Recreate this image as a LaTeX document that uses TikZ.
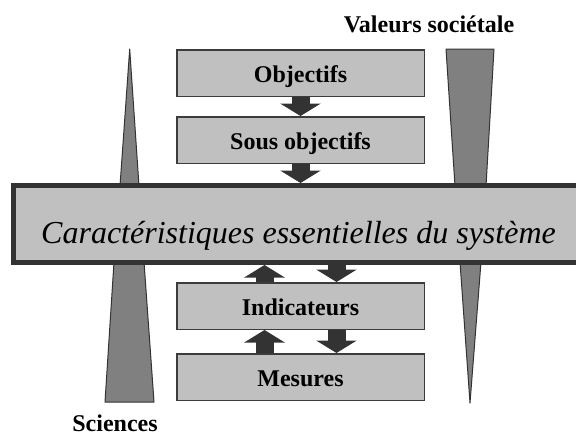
\documentclass[tikz,border=0pt]{standalone}
\usepackage{fontspec}
\setmainfont{Liberation Serif}
\usetikzlibrary{arrows.meta,calc}
\definecolor{boxfill}{HTML}{C0C0C0}
\definecolor{boxline}{HTML}{3C3C3C}
\definecolor{wedgefill}{HTML}{808080}
\definecolor{darkline}{HTML}{333333}
\begin{document}
\begin{tikzpicture}[x=1pt,y=-1pt,
		levelbox/.style={draw=boxline,fill=boxfill,line width=1.5pt,minimum width=247.5pt,minimum height=46.5pt,inner sep=0pt,text height=20pt,text depth=2pt,font=\fontsize{24}{28}\selectfont\bfseries},
		wedge/.style={draw=darkline,fill=wedgefill,line width=1pt,line join=round},
		blockarrow/.style={draw=darkline,line width=18pt,-{Triangle[width=40pt,length=12.5pt]}},
		sidelabel/.style={anchor=base,inner sep=0pt,font=\fontsize{24}{28}\selectfont\bfseries}]
		\useasboundingbox (0,0) rectangle (576,437);
		\filldraw[wedge] (129.7,49) -- (139,186) -- (120,186) -- cycle;
		\filldraw[wedge] (446,49) -- (494,49) -- (486,186) -- (455,186) -- cycle;
		\filldraw[wedge] (114,262) -- (144,262) -- (154,402) -- (105,402) -- cycle;
		\filldraw[wedge] (460,262) -- (481,262) -- (470,403) -- cycle;
		\node[draw=darkline,fill=boxfill,line width=5pt,minimum width=586.5pt,minimum height=77pt,inner sep=0pt] (carac) at (306.75,224) {};
		\node[anchor=base,inner sep=0pt,font=\fontsize{32}{38}\selectfont\itshape] (caractxt) at (298.5,243) {Caractéristiques essentielles du système};
		\node[levelbox] (obj) at (300.5,73) {Objectifs};
		\node[levelbox] (sous) at (300.5,140) {Sous objectifs};
		\node[levelbox] (ind) at (300.5,306) {Indicateurs};
		\node[levelbox] (mes) at (300.5,377) {Mesures};
		\node[sidelabel] (valeurs) at (429,32) {Valeurs sociétale};
		\node[sidelabel] (sciences) at (115,431) {Sciences};
		\draw[blockarrow] (obj.south) -- (sous.north);
		\draw[blockarrow] (sous.north |- sous.south) -- (sous.south |- carac.north);
		\draw[blockarrow] ([xshift=-36pt]ind.north) -- ([xshift=-36pt]ind.north |- carac.south);
		\draw[blockarrow] ([xshift=36pt]ind.north |- carac.south) -- ([xshift=36pt]ind.north);
		\draw[blockarrow] ([xshift=-36pt]mes.north) -- ([xshift=-36pt]ind.south);
		\draw[blockarrow] ([xshift=36pt]ind.south) -- ([xshift=36pt]mes.north);
	\end{tikzpicture}
\end{document}
